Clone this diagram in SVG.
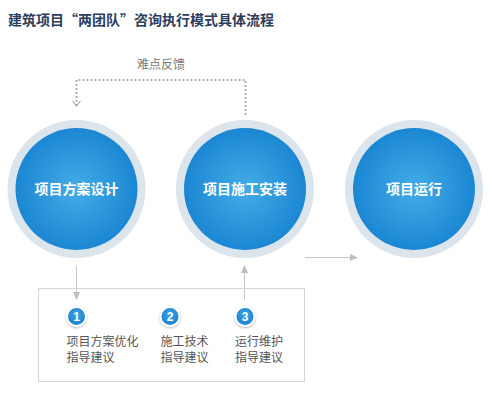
<svg xmlns="http://www.w3.org/2000/svg" width="492" height="400" viewBox="0 0 492 400">
<defs>
<radialGradient id="blue" cx="50%" cy="50%" r="50%">
<stop offset="0" stop-color="#44ace6"/>
<stop offset="1" stop-color="#1b87d3"/>
</radialGradient>
<radialGradient id="badge" cx="50%" cy="40%" r="60%">
<stop offset="0" stop-color="#3aa3e3"/>
<stop offset="1" stop-color="#1a7fcc"/>
</radialGradient>
<filter id="sh" x="-30%" y="-30%" width="160%" height="160%">
<feDropShadow dx="0" dy="1" stdDeviation="1.2" flood-color="#000" flood-opacity="0.3"/>
</filter>
<marker id="ah" viewBox="0 0 8 8" refX="7" refY="4" markerWidth="8" markerHeight="8" markerUnits="userSpaceOnUse" orient="auto">
<path d="M0,0.5 L8,4 L0,7.5 Z" fill="#bdbdbd"/>
</marker>
</defs>
<style>
.title{font-family:"Noto Sans CJK SC",sans-serif;font-size:14px;font-weight:bold;fill:#2b3e5e}
.lbl{font-family:"Noto Sans CJK SC",sans-serif;font-size:14px;font-weight:bold;fill:#fff}
.sub{font-family:"Noto Sans CJK SC",sans-serif;font-size:12px;fill:#555}
.fb{font-family:"Noto Sans CJK SC",sans-serif;font-size:12px;fill:#777}
.num{font-family:"Liberation Sans",Arial,sans-serif;font-size:12px;font-weight:bold;fill:#fff}
.ring{fill:#dce4ec}
.core{fill:url(#blue)}
.line{fill:none;stroke:#c6c6c6;stroke-width:1}
.dot{fill:none;stroke:#b8ae9f;stroke-width:2;stroke-dasharray:2 2}
.bd{fill:url(#badge);stroke:#fff;stroke-width:2;filter:url(#sh)}
</style>
<rect width="492" height="400" fill="#fff"/>
<text class="title" x="8" y="25">建筑项目“两团队”咨询执行模式具体流程</text>

<g id="connectors">
<path class="dot" d="M76.5,106 V80 H245.5 V116"/>
<path d="M72.5,101 L76.5,106 L80.5,101" fill="none" stroke="#b8ae9f" stroke-width="1.2"/>
<text class="fb" x="161" y="69" text-anchor="middle">难点反馈</text>
<line class="line" x1="76.5" y1="266" x2="76.5" y2="299" marker-end="url(#ah)"/>
<line class="line" x1="244.5" y1="300" x2="244.5" y2="266" marker-end="url(#ah)"/>
<line class="line" x1="305" y1="257.5" x2="357" y2="257.5" marker-end="url(#ah)"/>
</g>

<g id="node-design">
<circle class="ring" cx="76.5" cy="189" r="69"/>
<circle class="core" cx="76.5" cy="189" r="61"/>
<text class="lbl" x="76.5" y="194" text-anchor="middle">项目方案设计</text>
</g>
<g id="node-construction">
<circle class="ring" cx="245" cy="189" r="69"/>
<circle class="core" cx="245" cy="189" r="61"/>
<text class="lbl" x="245" y="194" text-anchor="middle">项目施工安装</text>
</g>
<g id="node-operation">
<circle class="ring" cx="414" cy="189" r="69"/>
<circle class="core" cx="414" cy="189" r="61"/>
<text class="lbl" x="414" y="194" text-anchor="middle">项目运行</text>
</g>

<g id="advice-box">
<rect x="38.5" y="288.5" width="266" height="93" fill="none" stroke="#d6d6d6" stroke-width="1"/>
</g>
<g id="advice-1">
<circle class="bd" cx="76.5" cy="316.5" r="9.5"/>
<text class="num" x="76.5" y="321" text-anchor="middle">1</text>
<text class="sub" x="66.5" y="346">项目方案优化</text>
<text class="sub" x="66.5" y="362">指导建议</text>
</g>
<g id="advice-2">
<circle class="bd" cx="170" cy="316.5" r="9.5"/>
<text class="num" x="170" y="321" text-anchor="middle">2</text>
<text class="sub" x="160.5" y="346">施工技术</text>
<text class="sub" x="160.5" y="362">指导建议</text>
</g>
<g id="advice-3">
<circle class="bd" cx="245" cy="316.5" r="9.5"/>
<text class="num" x="245" y="321" text-anchor="middle">3</text>
<text class="sub" x="235" y="346">运行维护</text>
<text class="sub" x="235" y="362">指导建议</text>
</g>
</svg>
